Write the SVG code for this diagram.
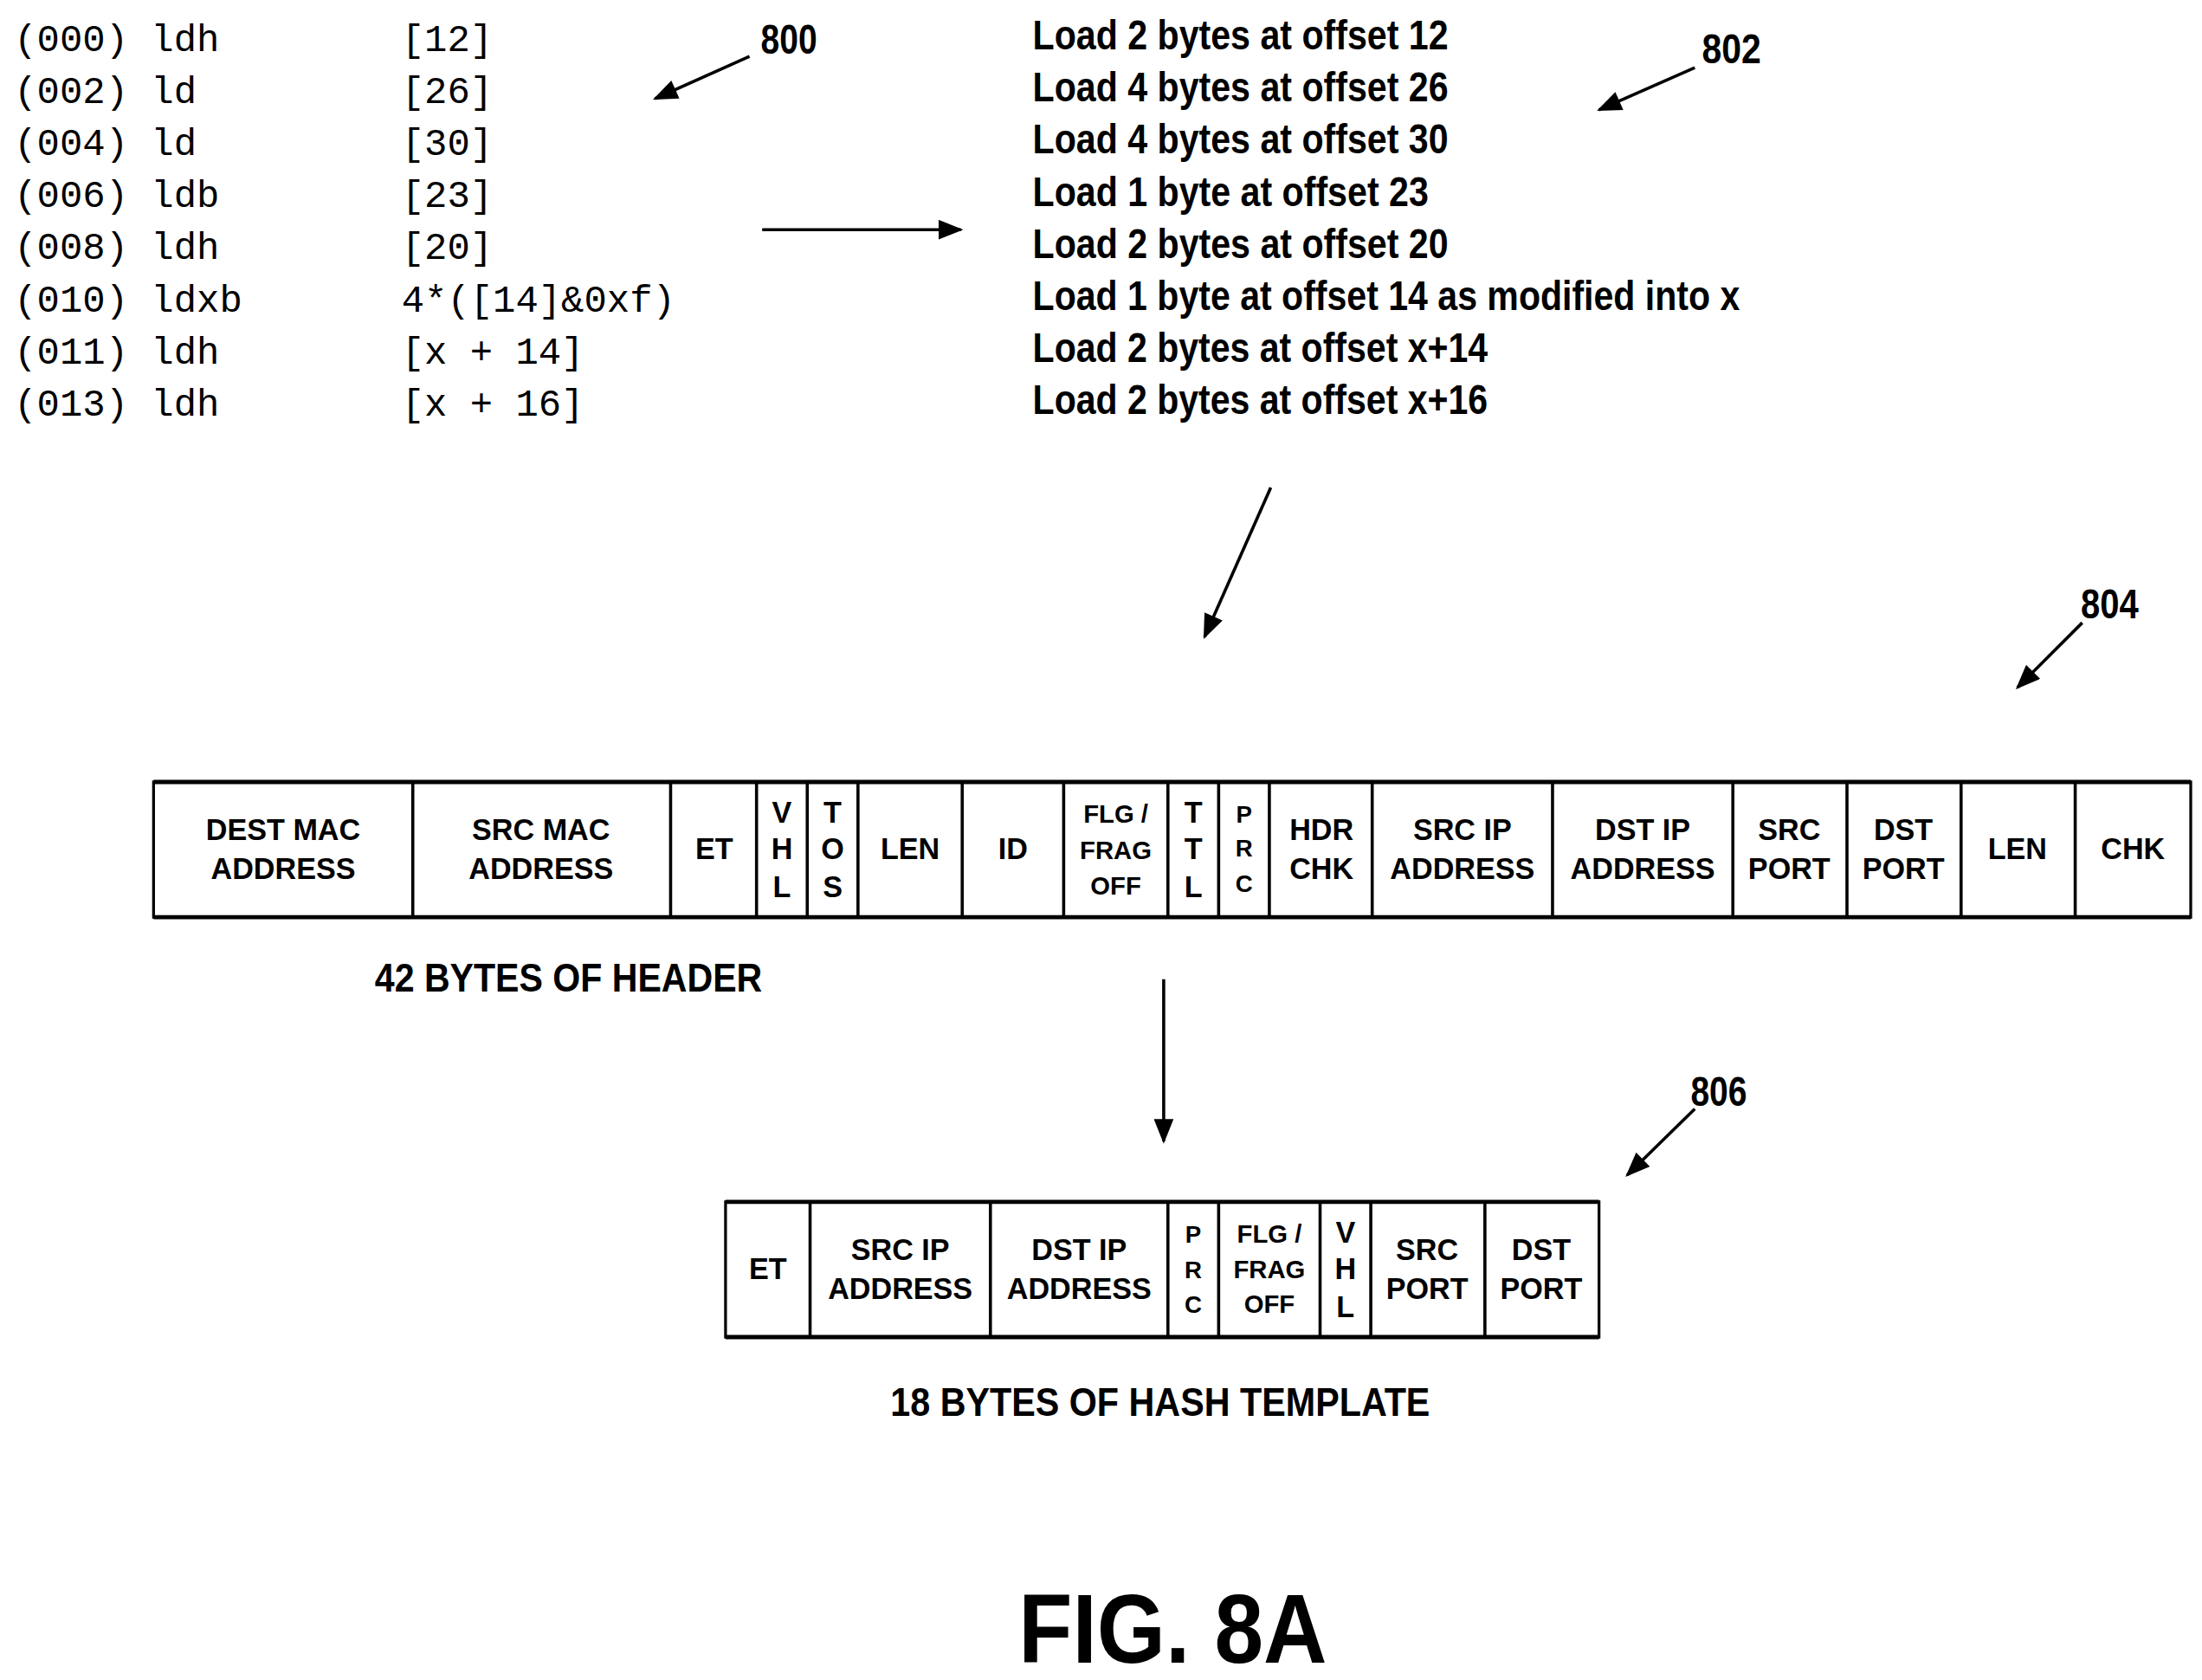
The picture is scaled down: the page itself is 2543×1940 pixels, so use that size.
<svg xmlns="http://www.w3.org/2000/svg" width="2543" height="1940" viewBox="0 0 2543 1940">
<style>
.code{font-family:"Liberation Mono",monospace;font-size:27px;fill:#000}
.t{font-family:"Liberation Sans",Arial,sans-serif;font-weight:bold;fill:#000}
.r{font-size:29px}
.c{font-size:21px;text-anchor:middle}
.ln{stroke:#000;stroke-width:2.2;fill:none}
.box{stroke:#000;stroke-width:2;fill:#fff}
</style>
<defs><marker id="ah" markerWidth="10" markerHeight="8" refX="9" refY="4" orient="auto" markerUnits="userSpaceOnUse" viewBox="0 0 10 8"><path d="M0,0L10,4L0,8z" fill="#000"/></marker>
<marker id="ah2" viewBox="0 0 10 8" refX="9" refY="4" markerWidth="18" markerHeight="14" orient="auto" markerUnits="userSpaceOnUse"><path d="M0,0L10,4L0,8z" fill="#000"/></marker></defs>
<rect width="2543" height="1940" fill="#fff"/>
<g transform="scale(1.627)">
<g id="code" class="code">
<text x="10" y="36">(000) ldh</text><text x="285" y="36">[12]</text>
<text x="10" y="73">(002) ld</text><text x="285" y="73">[26]</text>
<text x="10" y="110">(004) ld</text><text x="285" y="110">[30]</text>
<text x="10" y="147">(006) ldb</text><text x="285" y="147">[23]</text>
<text x="10" y="184">(008) ldh</text><text x="285" y="184">[20]</text>
<text x="10" y="221">(010) ldxb</text><text x="285" y="221">4*([14]&amp;0xf)</text>
<text x="10" y="258">(011) ldh</text><text x="285" y="258">[x + 14]</text>
<text x="10" y="295">(013) ldh</text><text x="285" y="295">[x + 16]</text>
</g>
<g id="desc" class="t r">
<text x="733" y="35" textLength="295" lengthAdjust="spacingAndGlyphs">Load 2 bytes at offset 12</text>
<text x="733" y="72" textLength="295" lengthAdjust="spacingAndGlyphs">Load 4 bytes at offset 26</text>
<text x="733" y="109" textLength="295" lengthAdjust="spacingAndGlyphs">Load 4 bytes at offset 30</text>
<text x="733" y="146" textLength="281" lengthAdjust="spacingAndGlyphs">Load 1 byte at offset 23</text>
<text x="733" y="183" textLength="295" lengthAdjust="spacingAndGlyphs">Load 2 bytes at offset 20</text>
<text x="733" y="220" textLength="502" lengthAdjust="spacingAndGlyphs">Load 1 byte at offset 14 as modified into x</text>
<text x="733" y="257" textLength="323" lengthAdjust="spacingAndGlyphs">Load 2 bytes at offset x+14</text>
<text x="733" y="294" textLength="323" lengthAdjust="spacingAndGlyphs">Load 2 bytes at offset x+16</text>
</g>
<g id="refs" class="t r">
<text x="540" y="38" textLength="40" lengthAdjust="spacingAndGlyphs">800</text>
<text x="1208" y="45" textLength="42" lengthAdjust="spacingAndGlyphs">802</text>
<text x="1477" y="439" textLength="41" lengthAdjust="spacingAndGlyphs">804</text>
<text x="1200" y="785" textLength="40" lengthAdjust="spacingAndGlyphs">806</text>
</g>
<g id="header">
<rect class="box" x="109" y="555" width="1446" height="96"/>
<line x1="109" y1="555" x2="1555" y2="555" stroke="#000" stroke-width="3"/>
<line x1="109" y1="651" x2="1555" y2="651" stroke="#000" stroke-width="3"/>
<path class="ln" d="M293,555V651M476,555V651M537,555V651M573,555V651M609,555V651M683,555V651M755,555V651M829,555V651M865,555V651M901,555V651M974,555V651M1102,555V651M1230,555V651M1311,555V651M1392,555V651M1473,555V651"/>
<g class="t c">
<text x="201" y="596">DEST MAC</text><text x="201" y="624">ADDRESS</text>
<text x="384" y="596">SRC MAC</text><text x="384" y="624">ADDRESS</text>
<text x="507" y="610">ET</text>
<text x="555" y="584">V</text><text x="555" y="610">H</text><text x="555" y="637">L</text>
<text x="591" y="584">T</text><text x="591" y="610">O</text><text x="591" y="637">S</text>
<text x="646" y="610">LEN</text>
<text x="719" y="610">ID</text>
<text x="792" y="584" font-size="18">FLG /</text><text x="792" y="610" font-size="18">FRAG</text><text x="792" y="635" font-size="18">OFF</text>
<text x="847" y="584">T</text><text x="847" y="610">T</text><text x="847" y="637">L</text>
<text x="883" y="584" font-size="17">P</text><text x="883" y="608" font-size="17">R</text><text x="883" y="633" font-size="17">C</text>
<text x="938" y="596">HDR</text><text x="938" y="624">CHK</text>
<text x="1038" y="596">SRC IP</text><text x="1038" y="624">ADDRESS</text>
<text x="1166" y="596">DST IP</text><text x="1166" y="624">ADDRESS</text>
<text x="1270" y="596">SRC</text><text x="1270" y="624">PORT</text>
<text x="1351" y="596">DST</text><text x="1351" y="624">PORT</text>
<text x="1432" y="610">LEN</text>
<text x="1514" y="610">CHK</text>
</g>
</g>
<g id="template">
<rect class="box" x="515" y="853" width="620" height="96"/>
<line x1="515" y1="853" x2="1135" y2="853" stroke="#000" stroke-width="3"/>
<line x1="515" y1="949" x2="1135" y2="949" stroke="#000" stroke-width="3"/>
<path class="ln" d="M575,853V949M703,853V949M829,853V949M865,853V949M937,853V949M973,853V949M1054,853V949"/>
<g class="t c">
<text x="545" y="908">ET</text>
<text x="639" y="894">SRC IP</text><text x="639" y="922">ADDRESS</text>
<text x="766" y="894">DST IP</text><text x="766" y="922">ADDRESS</text>
<text x="847" y="882" font-size="17">P</text><text x="847" y="907" font-size="17">R</text><text x="847" y="932" font-size="17">C</text>
<text x="901" y="882" font-size="18">FLG /</text><text x="901" y="907" font-size="18">FRAG</text><text x="901" y="932" font-size="18">OFF</text>
<text x="955" y="882">V</text><text x="955" y="908">H</text><text x="955" y="935">L</text>
<text x="1013" y="894">SRC</text><text x="1013" y="922">PORT</text>
<text x="1094" y="894">DST</text><text x="1094" y="922">PORT</text>
</g>
</g>
<g id="captions" class="t">
<text x="266" y="704" font-size="28" textLength="275" lengthAdjust="spacingAndGlyphs">42 BYTES OF HEADER</text>
<text x="632" y="1005" font-size="28" textLength="383" lengthAdjust="spacingAndGlyphs">18 BYTES OF HASH TEMPLATE</text>
<text x="723" y="1180" font-size="70" textLength="219" lengthAdjust="spacingAndGlyphs">FIG. 8A</text>
</g>
<g id="connectors">
<line class="ln" x1="532" y1="40" x2="465" y2="70" marker-end="url(#ah2)"/>
<line class="ln" x1="1203" y1="48" x2="1135" y2="78" marker-end="url(#ah2)"/>
<line class="ln" x1="541" y1="163" x2="682" y2="163" marker-end="url(#ah2)"/>
<line class="ln" x1="902" y1="346" x2="855" y2="452" marker-end="url(#ah2)"/>
<line class="ln" x1="1478" y1="442" x2="1432" y2="488" marker-end="url(#ah2)"/>
<line class="ln" x1="826" y1="695" x2="826" y2="810" marker-end="url(#ah2)"/>
<line class="ln" x1="1203" y1="787" x2="1155" y2="834" marker-end="url(#ah2)"/>
</g>
</g>
</svg>
